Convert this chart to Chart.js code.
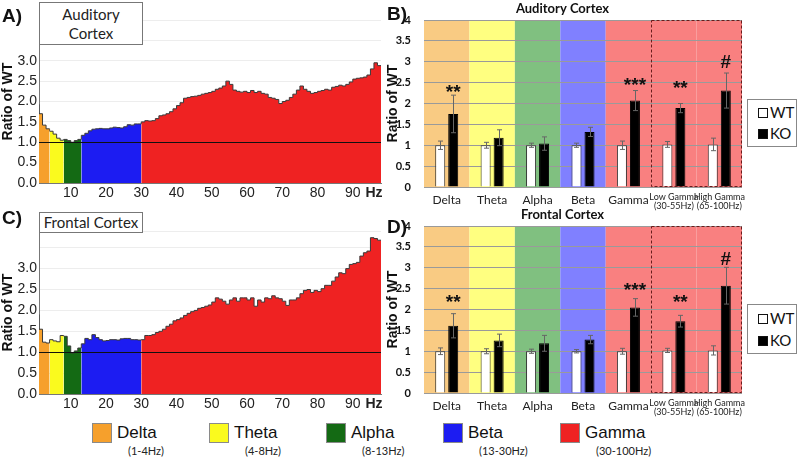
<!DOCTYPE html>
<html>
<head>
<meta charset="utf-8">
<script src="https://cdn.jsdelivr.net/npm/chart.js@4.4.1/dist/chart.umd.min.js"></script>
<style>
  body { margin: 0; width: 800px; height: 457px; background: #fff; position: relative; overflow: hidden;
         font-family: "Liberation Sans", Arial, sans-serif; }
  canvas { position: absolute; }
  .panel { position: absolute; font-weight: bold; font-size: 19px; color: #111; }
  .cortex { position: absolute; background: #fff; border: 1px solid #777; box-sizing: border-box;
            text-align: center; font-family: Lato, sans-serif; font-size: 15px; color: #222; line-height: 19px; }
  .grp { position: absolute; border: 1px solid #888; box-sizing: border-box; background: #fff;
         font-family: Lato, sans-serif; font-size: 15px; color: #111; }
  .grp div { position: absolute; left: 10px; height: 20px; line-height: 20px; white-space: nowrap; }
  .grp span { display: inline-block; width: 8px; height: 8px; border: 1px solid #111; margin-right: 2px; vertical-align: 0; }
  .sw { position: absolute; width: 20px; height: 20px; box-sizing: border-box; border: 1px solid #8a8a8a; }
  .bn { position: absolute; font-family: "Liberation Sans", Arial, sans-serif; font-size: 17px; color: #111; }
  .br { position: absolute; font-family: Lato, sans-serif; font-size: 11px; color: #222; }
</style>
</head>
<body>

<canvas id="specA" width="392" height="200" style="left:0;top:0"></canvas>
<canvas id="specC" width="392" height="200" style="left:0;top:211px"></canvas>
<canvas id="barB" width="417" height="213" style="left:383px;top:0"></canvas>
<canvas id="barD" width="417" height="213" style="left:383px;top:206px"></canvas>

<div class="panel" style="left:2px;top:5px">A)</div>
<div class="panel" style="left:387px;top:3px">B)</div>
<div class="panel" style="left:2px;top:207px">C)</div>
<div class="panel" style="left:387px;top:216px">D)</div>

<div class="cortex" style="left:39px;top:2px;width:104px;height:43px;padding-top:2px">Auditory<br>Cortex</div>
<div class="cortex" style="left:39px;top:212px;width:104px;height:21px">Frontal Cortex</div>

<div class="grp" style="left:747px;top:99px;width:50px;height:48px">
  <div style="top:2px"><span style="background:#fff"></span>WT</div>
  <div style="top:23px"><span style="background:#000"></span>KO</div>
</div>
<div class="grp" style="left:747px;top:304px;width:50px;height:50px">
  <div style="top:3px"><span style="background:#fff"></span>WT</div>
  <div style="top:25px"><span style="background:#000"></span>KO</div>
</div>

<div id="bandLegend"></div>

<script>
// frequency bands (spectra A and C, bottom legend)
const bandNames = ["Delta", "Theta", "Alpha", "Beta", "Gamma"];
const bandRanges = ["(1-4Hz)", "(4-8Hz)", "(8-13Hz)", "(13-30Hz)", "(30-100Hz)"];
const bandEdges = [1, 4, 8, 13, 30, 98];
const bandFill = ["#F6A02C", "#FAFA1E", "#146A14", "#1C1CF2", "#EF2222"];

// KO / WT power ratio, one value per Hz from 1 to 98 Hz
const audRatio = [
  1.93, 1.70, 1.42, 1.33, 1.27, 1.20, 1.10, 1.05, 1.07, 1.04,
  1.00, 1.04, 1.07, 1.17, 1.22, 1.28, 1.32, 1.33, 1.34, 1.33,
  1.33, 1.35, 1.37, 1.36, 1.35, 1.38, 1.43, 1.42, 1.45, 1.45,
  1.50, 1.53, 1.52, 1.53, 1.58, 1.65, 1.67, 1.70, 1.75, 1.82,
  1.90, 1.97, 2.08, 2.10, 2.12, 2.13, 2.15, 2.18, 2.20, 2.22,
  2.25, 2.30, 2.33, 2.38, 2.50, 2.42, 2.28, 2.25, 2.23, 2.25,
  2.22, 2.27, 2.22, 2.25, 2.20, 2.18, 2.10, 2.08, 2.05, 1.95,
  2.00, 2.03, 2.10, 2.18, 2.28, 2.38, 2.30, 2.25, 2.20, 2.22,
  2.25, 2.27, 2.30, 2.28, 2.35, 2.37, 2.40, 2.38, 2.42, 2.48,
  2.55, 2.57, 2.58, 2.60, 2.65, 2.80, 2.95, 2.88
];
const froRatio = [
  1.90, 1.55, 1.24, 1.22, 1.30, 1.27, 1.25, 1.40, 1.38, 1.15,
  0.98, 1.03, 1.10, 1.20, 1.33, 1.30, 1.42, 1.35, 1.30, 1.27,
  1.28, 1.30, 1.30, 1.29, 1.32, 1.33, 1.33, 1.30, 1.30, 1.29,
  1.30, 1.40, 1.40, 1.42, 1.47, 1.50, 1.55, 1.62, 1.67, 1.75,
  1.78, 1.82, 1.88, 1.93, 1.97, 2.00, 2.05, 2.07, 2.10, 2.13,
  2.20, 2.30, 2.27, 2.22, 2.15, 2.25, 2.30, 2.22, 2.30, 2.30,
  2.25, 2.30, 2.10, 2.25, 2.20, 2.30, 2.28, 2.35, 2.30, 2.28,
  2.22, 2.12, 2.25, 2.25, 2.30, 2.40, 2.48, 2.50, 2.43, 2.48,
  2.45, 2.52, 2.60, 2.60, 2.70, 2.80, 2.90, 2.88, 3.00, 3.10,
  3.12, 3.15, 3.30, 3.38, 3.42, 3.74, 3.72, 3.68
];
const xTickVals = [10, 20, 30, 40, 50, 60, 70, 80, 90];
const hzTickPos = 96;
const refLevel = 1;

// band averages (B and D)
const barCats = ["Delta", "Theta", "Alpha", "Beta", "Gamma", ["Low Gamma", "(30-55Hz)"], ["High Gamma", "(65-100Hz)"]];
const barBg = ["#F9CB83", "#FFFF80", "#80C080", "#8080FF", "#F98080", "#F98080", "#F98080"];

const audWT    = [1, 1, 1, 1, 1, 1.02, 1.02];
const audWTerr = [0.10, 0.07, 0.05, 0.05, 0.10, 0.07, 0.15];
const audKO    = [1.75, 1.18, 1.04, 1.32, 2.07, 1.89, 2.31];
const audKOerr = [0.45, 0.19, 0.16, 0.11, 0.24, 0.11, 0.42];
const audSig   = ["**", "", "", "", "***", "**", "#"];
const audSigY  = [2.37, null, null, null, 2.52, 2.45, 3.0];

const froWT    = [1, 1, 1, 1, 1, 1.02, 1.02];
const froWTerr = [0.08, 0.06, 0.05, 0.04, 0.07, 0.05, 0.11];
const froKO    = [1.61, 1.26, 1.19, 1.28, 2.05, 1.72, 2.57];
const froKOerr = [0.29, 0.15, 0.19, 0.10, 0.21, 0.14, 0.44];
const froSig   = ["**", "", "", "", "***", "**", "#"];
const froSigY  = [2.26, null, null, null, 2.56, 2.26, 3.22];


const refLinePlugin = {
  id: "refLine",
  afterDatasetsDraw(chart) {
    const { ctx, chartArea, scales } = chart;
    const y = Math.round(scales.y.getPixelForValue(refLevel)) + 0.5;
    ctx.save();
    ctx.strokeStyle = "#111";
    ctx.lineWidth = 1;
    ctx.beginPath();
    ctx.moveTo(chartArea.left, y);
    ctx.lineTo(chartArea.right, y);
    ctx.stroke();
    ctx.restore();
  }
};

function spectrumChart(id, ratio, yMax) {

  const freqs = ratio.map((v, i) => i + 1);

  // one filled step line per band
  const datasets = bandNames.map((name, b) => ({
    label: name,
    data: freqs
      .filter(f => f >= bandEdges[b] && f <= bandEdges[b + 1])
      .map(f => ({ x: f, y: ratio[f - 1] })),
    stepped: "after",
    fill: "origin",
    backgroundColor: bandFill[b],
    borderColor: "#3a3a3a",
    borderWidth: 1,
    pointRadius: 0
  }));

  new Chart(document.getElementById(id), {
    type: "line",
    data: { datasets: datasets },
    options: {
      animation: false,
      responsive: false,
      devicePixelRatio: 1,
      layout: { padding: { top: 20, right: 11, left: 0, bottom: 0 } },
      plugins: { legend: { display: false }, tooltip: { enabled: false } },
      scales: {
        x: {
          type: "linear", min: 1, max: 98,
          grid: { display: false, drawTicks: false },
          border: { color: "#777" },
          afterBuildTicks: s => { s.ticks = xTickVals.concat(hzTickPos).map(v => ({ value: v })); },
          afterFit: s => { s.height = 17; },
          ticks: {
            autoSkip: false, maxRotation: 0, padding: 2, color: "#222",
            font: c => ({ family: "Liberation Sans", size: 14,
                          weight: c.tick && c.tick.value === hzTickPos ? "bold" : "normal" }),
            callback: v => v === hzTickPos ? "Hz" : v
          }
        },
        y: {
          min: 0, max: yMax,
          grid: { color: "rgba(0,0,0,0.07)", drawTicks: false },
          border: { color: "#777" },
          afterFit: s => { s.width = 39; },
          title: { display: true, text: "Ratio of WT", color: "#111", padding: 0,
                   font: { family: "Liberation Sans", size: 14, weight: "bold" } },
          ticks: {
            stepSize: 0.5, padding: 2, color: "#222",
            font: { family: "Liberation Sans", size: 14 },
            callback: v => v <= 3 ? v.toFixed(1) : ""
          }
        }
      }
    },
    plugins: [refLinePlugin]
  });
}


const bandBgPlugin = {
  id: "bandBg",
  beforeDraw(chart) {
    const { ctx, chartArea: a, scales: { x } } = chart;
    const w = (a.right - a.left) / barCats.length;
    ctx.save();
    barBg.forEach((c, i) => {
      const cx = x.getPixelForValue(i);
      ctx.fillStyle = c;
      ctx.fillRect(cx - w / 2, a.top, w, a.bottom - a.top);
    });
    ctx.restore();
  }
};

const errPlugin = {
  id: "errBars",
  afterDatasetsDraw(chart) {
    const { ctx, chartArea: a, scales: { x, y } } = chart;

    // dashed frame round Low / High Gamma
    const w = (a.right - a.left) / barCats.length;
    const left = Math.round(x.getPixelForValue(5) - w / 2) + 0.5;
    ctx.save();
    ctx.setLineDash([3, 2]);
    ctx.strokeStyle = "#6b1b1b";
    ctx.lineWidth = 1;
    ctx.strokeRect(left, a.top + 0.5, a.right - left - 0.5, a.bottom - a.top - 1);
    ctx.setLineDash([]);

    // error bars
    chart.data.datasets.forEach((ds, d) => {
      chart.getDatasetMeta(d).data.forEach((bar, i) => {
        const hi = y.getPixelForValue(ds.data[i] + ds.errs[i]);
        const lo = y.getPixelForValue(ds.data[i] - ds.errs[i]);
        const bx = Math.round(bar.x) + 0.5;
        ctx.strokeStyle = "#666";
        ctx.beginPath();
        ctx.moveTo(bx, lo); ctx.lineTo(bx, hi);
        ctx.moveTo(bx - 2.5, hi); ctx.lineTo(bx + 2.5, hi);
        ctx.moveTo(bx - 2.5, lo); ctx.lineTo(bx + 2.5, lo);
        ctx.stroke();
      });
    });

    // significance marks over KO bars
    const ko = chart.data.datasets[1];
    const koMeta = chart.getDatasetMeta(1);
    ctx.fillStyle = "#111";
    ctx.font = "bold 19px 'Liberation Sans'";
    ctx.textAlign = "center";
    ctx.textBaseline = "alphabetic";
    ko.sig.forEach((s, i) => {
      if (!s) return;
      const m = ctx.measureText(s);
      const yc = y.getPixelForValue(ko.sigY[i]);
      ctx.fillText(s, koMeta.data[i].x, yc + (m.actualBoundingBoxAscent - m.actualBoundingBoxDescent) / 2);
    });
    ctx.restore();
  }
};

function bandBarChart(id, title, wt, wtErr, ko, koErr, sig, sigY) {

  new Chart(document.getElementById(id), {
    type: "bar",
    data: {
      labels: barCats,
      datasets: [
        { label: "WT", data: wt, errs: wtErr, backgroundColor: "#fff", borderColor: "#333", borderWidth: 1 },
        { label: "KO", data: ko, errs: koErr, sig: sig, sigY: sigY, backgroundColor: "#000", borderColor: "#000", borderWidth: 1 }
      ]
    },
    options: {
      animation: false,
      responsive: false,
      devicePixelRatio: 1,
      categoryPercentage: 0.573,
      barPercentage: 0.77,
      layout: { padding: { top: 0, right: 58, left: 0, bottom: 0 } },
      plugins: {
        legend: { display: false },
        tooltip: { enabled: false },
        title: { display: true, text: title, color: "#111",
                 font: { family: "Lato", size: 13, weight: "bold", lineHeight: 1.2 },
                 padding: { top: 1, bottom: 3.4 } }
      },
      scales: {
        x: {
          grid: { display: false, drawTicks: false },
          border: { display: false },
          afterFit: s => { s.height = 26; },
          ticks: {
            autoSkip: false, maxRotation: 0, padding: 6, color: "#222",
            font: c => c.index >= 5
              ? { family: "Lato", size: 9, lineHeight: 1.0 }
              : { family: "Lato", size: 12 }
          }
        },
        y: {
          min: 0, max: 4,
          grid: { color: "#9a9a9a", drawTicks: false },
          border: { display: false },
          afterFit: s => { s.width = 41; },
          title: { display: true, text: "Ratio of WT", color: "#111", padding: { top: 2, bottom: 0 },
                   font: { family: "Liberation Sans", size: 14, weight: "bold" } },
          ticks: { stepSize: 0.5, padding: 13, color: "#111",
                   font: { family: "Lato", size: 11, weight: "bold" },
                   callback: v => String(v) }
        }
      }
    },
    plugins: [bandBgPlugin, errPlugin]
  });
}


// bottom colour key
const key = document.getElementById("bandLegend");
bandNames.forEach((name, i) => {
  const x = 92 + i * 117;
  key.innerHTML +=
    `<div class="sw" style="left:${x}px;top:423px;background:${bandFill[i]}"></div>
     <div class="bn" style="left:${x + 25}px;top:423px">${name}</div>
     <div class="br" style="left:${x + 36}px;top:444px">${bandRanges[i]}</div>`;
});

spectrumChart("specA", audRatio, 4);
spectrumChart("specC", froRatio, 3.9);
bandBarChart("barB", "Auditory Cortex", audWT, audWTerr, audKO, audKOerr, audSig, audSigY);
bandBarChart("barD", "Frontal Cortex", froWT, froWTerr, froKO, froKOerr, froSig, froSigY);
</script>
</body>
</html>
